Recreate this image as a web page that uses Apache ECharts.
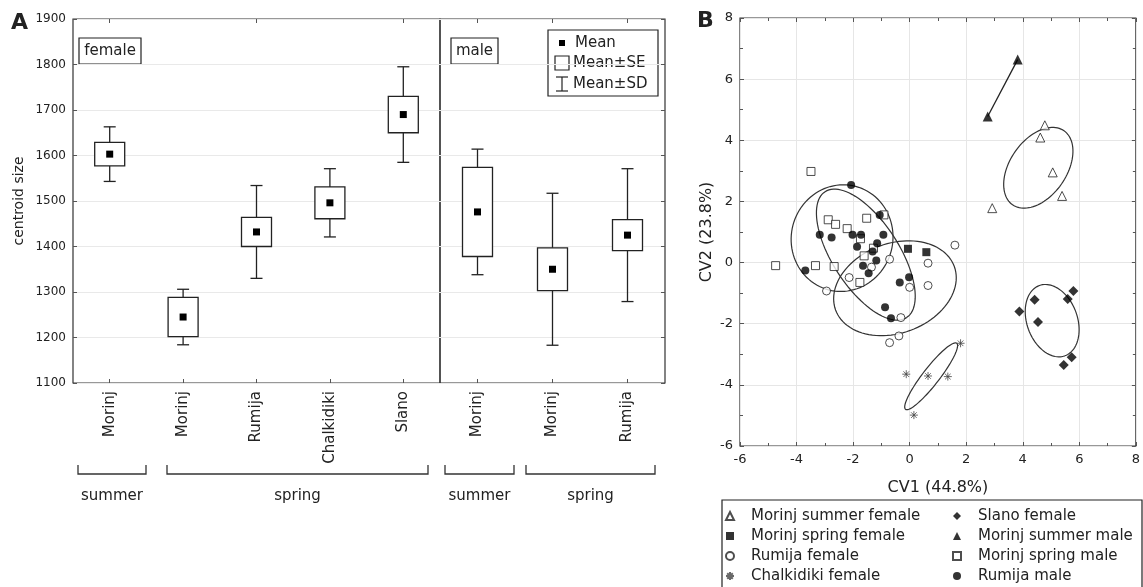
<!DOCTYPE html>
<html>
<head>
<meta charset="utf-8">
<script src="https://cdn.jsdelivr.net/npm/echarts@6/dist/echarts.min.js"></script>
<style>
html, body { margin: 0; padding: 0; background: #fff; }
#main { width: 1143px; height: 587px; }
</style>
</head>
<body>
<div id="main"></div>
<script>
// ---- panel A: centroid size (mean, SE, SD) ----
var femaleSites = ['Morinj', 'Morinj', 'Rumija', 'Chalkidiki', 'Slano'];
var femaleMean = [1603, 1245, 1432, 1496, 1690];
var femaleSE = [26, 43, 32, 35, 40];
var femaleSD = [60, 61, 102, 75, 105];
var maleSites = ['Morinj', 'Morinj', 'Rumija'];
var maleMean = [1476, 1350, 1425];
var maleSE = [98, 47, 34];
var maleSD = [138, 167, 146];
var seasonLabels = ['summer', 'spring', 'summer', 'spring'];

// ---- panel B: canonical variates ----
var morinjSummerFemale = [[4.78, 4.49], [4.62, 4.09], [5.06, 2.95], [5.39, 2.18], [2.92, 1.78]];
var morinjSpringFemale = [[-0.06, 0.45], [0.59, 0.34]];
var rumijaFemale = [[-2.94, -0.93], [-2.14, -0.49], [-0.71, 0.11], [-1.35, -0.15], [0.0, -0.81], [0.65, -0.02],
  [0.65, -0.75], [1.60, 0.57], [-0.31, -1.80], [-0.38, -2.40], [-0.71, -2.62]];
var chalkidikiFemale = [[-0.12, -3.65], [0.65, -3.71], [1.35, -3.73], [1.80, -2.64], [0.15, -4.99]];
var slanoFemale = [[3.88, -1.60], [4.42, -1.22], [4.54, -1.94], [5.59, -1.19], [5.79, -0.93], [5.73, -3.10], [5.45, -3.35]];
var morinjSummerMale = [[2.76, 4.78], [3.82, 6.64]];
var morinjSpringMale = [[-3.49, 2.98], [-4.74, -0.10], [-3.33, -0.10], [-2.67, -0.13], [-2.88, 1.40], [-2.62, 1.25],
  [-2.21, 1.11], [-1.52, 1.45], [-0.91, 1.56], [-1.74, 0.78], [-1.28, 0.47], [-1.61, 0.22], [-1.76, -0.65]];
var rumijaMale = [[-2.07, 2.54], [-3.69, -0.26], [-3.18, 0.91], [-2.76, 0.82], [-2.02, 0.91], [-1.72, 0.91],
  [-1.86, 0.52], [-1.06, 1.56], [-0.93, 0.91], [-1.15, 0.63], [-1.31, 0.36], [-1.18, 0.07], [-1.65, -0.10],
  [-1.45, -0.35], [-0.35, -0.65], [-0.02, -0.48], [-0.87, -1.46], [-0.66, -1.82]];
// confidence ellipses: centre and two conjugate semi-axes (data units)
var ellipseCenters = [[4.55, 3.10], [5.04, -1.90], [0.76, -3.72], [-2.39, 0.80], [-1.55, 0.26], [-0.52, -0.84]];
var ellipseAxisA = [[0.91, 1.21], [0.45, -1.15], [0.906, 1.08], [1.80, 0.12], [1.44, -2.06], [2.10, 0.71]];
var ellipseAxisB = [[-0.82, 0.53], [0.84, 0.28], [-0.233, 0.168], [-0.08, 1.74], [0.99, 0.59], [-0.54, 1.38]];

var FONT = 'DejaVu Sans';
var INK = '#222';

var myChart = echarts.init(document.getElementById('main'));

function boxData(mean, se, sd) {
  return mean.map(function (m, i) { return [i, m, se[i], sd[i]]; });
}

function renderBox(params, api) {
  var i = api.value(0), m = api.value(1), se = api.value(2), sd = api.value(3);
  var c = api.coord([i, m]);
  var x = c[0];
  var sdTop = api.coord([i, m + sd])[1], sdBot = api.coord([i, m - sd])[1];
  var seTop = api.coord([i, m + se])[1], seBot = api.coord([i, m - se])[1];
  var st = { stroke: INK, lineWidth: 1.3 };
  return {
    type: 'group',
    children: [
      { type: 'line', shape: { x1: x, y1: sdTop, x2: x, y2: sdBot }, style: st },
      { type: 'line', shape: { x1: x - 6, y1: sdTop, x2: x + 6, y2: sdTop }, style: st },
      { type: 'line', shape: { x1: x - 6, y1: sdBot, x2: x + 6, y2: sdBot }, style: st },
      { type: 'rect', shape: { x: x - 15, y: seTop, width: 30, height: seBot - seTop },
        style: { stroke: INK, lineWidth: 1.3, fill: '#fff' } },
      { type: 'rect', shape: { x: x - 3.5, y: c[1] - 3.5, width: 7, height: 7 }, style: { fill: '#000' } }
    ]
  };
}

function renderEllipse(params, api) {
  var cx = api.value(0), cy = api.value(1);
  var ax = api.value(2), ay = api.value(3), bx = api.value(4), by = api.value(5);
  var pts = [];
  for (var k = 0; k <= 100; k++) {
    var t = k / 100 * Math.PI * 2;
    pts.push(api.coord([cx + ax * Math.cos(t) + bx * Math.sin(t), cy + ay * Math.cos(t) + by * Math.sin(t)]));
  }
  return { type: 'polyline', shape: { points: pts }, style: { stroke: '#333', lineWidth: 1.2, fill: null } };
}

var catAxis = function (grid, names, pos) {
  return {
    type: 'category', gridIndex: grid, data: names, position: pos,
    axisLine: { show: false, onZero: false },
    axisTick: { show: true, inside: true, alignWithLabel: true, length: 4, lineStyle: { color: '#555' } },
    axisLabel: pos === 'bottom'
      ? { rotate: 90, margin: 8, fontFamily: FONT, fontSize: 15, color: INK }
      : { show: false },
    splitLine: { show: false }
  };
};
var sizeAxis = function (grid, pos, labels) {
  return {
    type: 'value', gridIndex: grid, position: pos, min: 1100, max: 1900, interval: 100,
    axisLine: { show: false, onZero: false },
    axisTick: { show: pos === 'left' ? labels : true, inside: true, length: 4, lineStyle: { color: '#555' } },
    axisLabel: { show: labels, margin: 7, fontFamily: FONT, fontSize: 12, color: INK,
      formatter: function (v) { return String(v); } },
    splitLine: { show: pos === 'left', lineStyle: { color: '#e9e9e9' } },
    name: labels ? 'centroid size' : '', nameLocation: 'middle', nameGap: 47,
    nameTextStyle: { fontFamily: FONT, fontSize: 14, color: INK }
  };
};
var cvAxis = function (grid, pos, show, name, gap) {
  return {
    type: 'value', gridIndex: grid, position: pos, min: -6, max: 8, interval: 2,
    axisLine: { show: false, onZero: false },
    axisTick: { show: true, inside: true, length: 4, lineStyle: { color: '#555' } },
    minorTick: { show: true, splitNumber: 2, length: 3, lineStyle: { color: '#555' } },
    axisLabel: { show: show, margin: 7, fontFamily: FONT, fontSize: 13, color: INK },
    splitLine: { show: show, lineStyle: { color: '#e6e6e6' } },
    name: show ? name : '', nameLocation: 'middle', nameGap: gap,
    nameTextStyle: { fontFamily: FONT, fontSize: 16, color: INK }
  };
};

function bracket(x1, x2) {
  return { type: 'polyline', shape: { points: [[x1, 465], [x1, 474], [x2, 474], [x2, 465]] },
    style: { stroke: '#333', lineWidth: 1.3, fill: null } };
}
function label(txt, x, y, size, weight, align) {
  return { type: 'text', x: x, y: y,
    style: { text: txt, fontFamily: FONT, fontSize: size, fontWeight: weight || 'normal', fill: INK,
      align: align || 'center', verticalAlign: 'middle' } };
}
var bracketX = [[78, 146], [167, 428], [445, 514], [526, 655]];

var graphics = [
  label('A', 11, 23, 22, 'bold', 'left'),
  label('B', 697, 21, 22, 'bold', 'left'),
  { type: 'rect', shape: { x: 79, y: 38, width: 62, height: 26 }, style: { stroke: INK, lineWidth: 1.2, fill: '#fff' } },
  label('female', 110, 51, 15),
  { type: 'rect', shape: { x: 451, y: 38, width: 47, height: 26 }, style: { stroke: INK, lineWidth: 1.2, fill: '#fff' } },
  label('male', 474.5, 51, 15),
  // panel A legend
  { type: 'rect', shape: { x: 548, y: 30, width: 110, height: 66 }, style: { stroke: INK, lineWidth: 1.2, fill: '#fff' } },
  { type: 'rect', shape: { x: 559, y: 40, width: 6, height: 6 }, style: { fill: '#000' } },
  label('Mean', 575, 43.5, 15, 'normal', 'left'),
  { type: 'rect', shape: { x: 555, y: 56, width: 14, height: 14 }, style: { stroke: INK, lineWidth: 1.2, fill: '#fff' } },
  label('Mean\u00b1SE', 573, 63, 15, 'normal', 'left'),
  { type: 'polyline', shape: { points: [[556, 77], [568, 77]] }, style: { stroke: INK, lineWidth: 1.2 } },
  { type: 'polyline', shape: { points: [[562, 77], [562, 91]] }, style: { stroke: INK, lineWidth: 1.2 } },
  { type: 'polyline', shape: { points: [[556, 91], [568, 91]] }, style: { stroke: INK, lineWidth: 1.2 } },
  label('Mean\u00b1SD', 573, 84, 15, 'normal', 'left'),
  // panel B legend frame
  { type: 'rect', shape: { x: 722, y: 500, width: 420, height: 95 }, style: { stroke: INK, lineWidth: 1.2, fill: '#fff' }, z: -1 }
];
bracketX.forEach(function (b, i) {
  graphics.push(bracket(b[0], b[1]));
  graphics.push(label(seasonLabels[i], (b[0] + b[1]) / 2, 496, 15));
});

var openStyle = { color: '#fff', borderColor: INK, borderWidth: 1 };
var fillStyle = { color: '#000' };
var asterisk = 'path://M5,0L5,10M0,5L10,5M1.5,1.5L8.5,8.5M8.5,1.5L1.5,8.5';

function scatter(name, data, symbol, style, size) {
  return { type: 'scatter', name: name, xAxisIndex: 4, yAxisIndex: 3, data: data,
    symbol: symbol, symbolSize: size || 8, itemStyle: style, z: 5 };
}

var legendBase = {
  orient: 'vertical', top: 508, padding: 0, itemWidth: 8, itemHeight: 8, itemGap: 4,
  textStyle: { fontFamily: FONT, fontSize: 15, color: INK, lineHeight: 16, padding: [0, 0, 0, 12] }
};

var option = {
  backgroundColor: '#fff',
  animation: false,
  textStyle: { fontFamily: FONT },
  grid: [
    { left: 73, top: 19, width: 367, height: 364, show: true, borderColor: '#333', borderWidth: 1.2, backgroundColor: 'transparent' },
    { left: 440, top: 19, width: 225, height: 364, show: true, borderColor: '#333', borderWidth: 1.2, backgroundColor: 'transparent' },
    { left: 740, top: 18, width: 397, height: 428, show: true, borderColor: '#333', borderWidth: 1.2, backgroundColor: 'transparent' }
  ],
  xAxis: [
    catAxis(0, femaleSites, 'bottom'),
    catAxis(0, femaleSites, 'top'),
    catAxis(1, maleSites, 'bottom'),
    catAxis(1, maleSites, 'top'),
    cvAxis(2, 'bottom', true, 'CV1 (44.8%)', 34),
    cvAxis(2, 'top', false, '', 0)
  ],
  yAxis: [
    sizeAxis(0, 'left', true),
    sizeAxis(1, 'left', false),
    sizeAxis(1, 'right', false),
    cvAxis(2, 'left', true, 'CV2 (23.8%)', 25),
    cvAxis(2, 'right', false, '', 0)
  ],
  legend: [
    Object.assign({}, legendBase, { left: 725,
      data: ['Morinj summer female', 'Morinj spring female', 'Rumija female', 'Chalkidiki female'] }),
    Object.assign({}, legendBase, { left: 952,
      data: ['Slano female', 'Morinj summer male', 'Morinj spring male', 'Rumija male'] })
  ],
  graphic: graphics,
  series: [
    { type: 'custom', name: 'female', xAxisIndex: 0, yAxisIndex: 0, renderItem: renderBox,
      encode: { x: 0, y: 1 }, data: boxData(femaleMean, femaleSE, femaleSD) },
    { type: 'custom', name: 'male', xAxisIndex: 2, yAxisIndex: 1, renderItem: renderBox,
      encode: { x: 0, y: 1 }, data: boxData(maleMean, maleSE, maleSD) },
    { type: 'custom', name: 'ellipses', xAxisIndex: 4, yAxisIndex: 3, renderItem: renderEllipse,
      encode: { x: 0, y: 1 }, z: 3,
      data: ellipseCenters.map(function (c, i) {
        return [c[0], c[1], ellipseAxisA[i][0], ellipseAxisA[i][1], ellipseAxisB[i][0], ellipseAxisB[i][1]];
      }) },
    { type: 'line', name: 'summer male link', xAxisIndex: 4, yAxisIndex: 3, data: morinjSummerMale,
      symbol: 'none', lineStyle: { color: INK, width: 1.3 }, z: 3 },
    scatter('Morinj summer female', morinjSummerFemale, 'triangle', openStyle, 9),
    scatter('Morinj spring female', morinjSpringFemale, 'rect', fillStyle),
    scatter('Rumija female', rumijaFemale, 'circle', openStyle),
    scatter('Chalkidiki female', chalkidikiFemale, asterisk, { color: '#444', borderColor: '#444', borderWidth: 1 }),
    scatter('Slano female', slanoFemale, 'diamond', fillStyle, 10),
    scatter('Morinj summer male', morinjSummerMale, 'triangle', fillStyle, 10),
    scatter('Morinj spring male', morinjSpringMale, 'rect', openStyle),
    scatter('Rumija male', rumijaMale, 'circle', fillStyle)
  ]
};
myChart.setOption(option);
</script>
</body>
</html>
